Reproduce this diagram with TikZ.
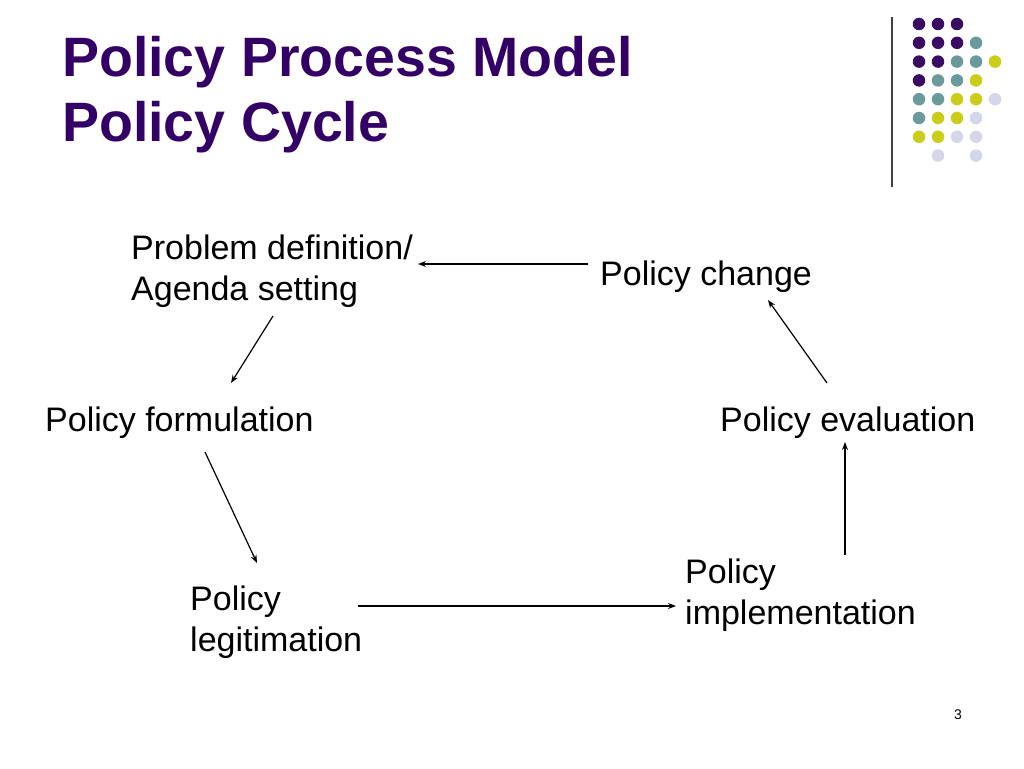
\documentclass[tikz,border=0pt]{standalone}
\usepackage{fontspec}
\setmainfont{Liberation Sans}
\usetikzlibrary{calc,arrows.meta}
\definecolor{ttlpurple}{HTML}{330066}
\definecolor{dotpurple}{HTML}{3B0A63}
\definecolor{dotteal}{HTML}{6B9A9C}
\definecolor{dotyellow}{HTML}{CCCC1A}
\definecolor{dotlav}{HTML}{D6D6EA}
\tikzset{
  body/.style={anchor=base west, inner sep=0pt, align=left, font=\fontsize{34}{41}\selectfont},
  ttl/.style={anchor=base west, inner sep=0pt, align=left, text=ttlpurple, font=\fontsize{55.5}{65}\selectfont\bfseries},
  arr/.style={-{Stealth[length=8pt,width=6pt]}, line width=1.2pt},
  dot/.style={circle, inner sep=0pt, minimum size=12.5pt}
}
\begin{document}
\begin{tikzpicture}[x=1pt,y=-1pt]
\useasboundingbox[fill=white] (0,0) rectangle (1024,768);
% title
\node[ttl] (t1) at (62,76) {Policy Process Model};
\node[ttl] (t2) at (62,141) {Policy Cycle};
% separator
\draw[line width=1.2pt, black!75] (892,17) -- (892,187);
% dots
\foreach \r/\row in {0/{P,P,P,N,N},1/{P,P,P,T,N},2/{P,P,T,T,Y},3/{P,T,T,Y,N},4/{T,T,Y,Y,L},5/{T,Y,Y,L,N},6/{Y,Y,L,L,N},7/{N,L,N,L,N}}{
  \foreach \c [count=\i from 0] in \row {
    \if\c P \node[dot, fill=dotpurple] (d\r\i) at (919+19*\i,24+18.8*\r) {};\fi
    \if\c T \node[dot, fill=dotteal] (d\r\i) at (919+19*\i,24+18.8*\r) {};\fi
    \if\c Y \node[dot, fill=dotyellow] (d\r\i) at (919+19*\i,24+18.8*\r) {};\fi
    \if\c L \node[dot, fill=dotlav] (d\r\i) at (919+19*\i,24+18.8*\r) {};\fi
  }
}
% nodes (base anchor = baseline of last line)
\node[body] (prob) at (131,300) {Problem definition/\\Agenda setting};
\node[body] (chg) at (600,285) {Policy change};
\node[body] (form) at (45,431) {Policy formulation};
\node[body] (eval) at (720,431) {Policy evaluation};
\node[body] (legit) at (190,651) {Policy\\legitimation};
\node[body] (impl) at (685,624) {Policy\\implementation};
\node[anchor=base west, inner sep=0pt, font=\fontsize{14}{16}\selectfont] (pg) at (954,719) {3};
% arrows
\draw[arr] ($(chg.base west)+(-12,-21)$) -- ($(prob.base west)+(287,-36)$);
\draw[arr] ($(prob.base west)+(142,16)$) -- ($(form.base west)+(186,-48)$);
\draw[arr] ($(form.base west)+(160,21)$) -- ($(legit.base west)+(67,-88)$);
\draw[arr] ($(legit.base west)+(168,-45)$) -- ($(impl.base west)+(-9,-18)$);
\draw[arr] ($(impl.base west)+(160,-69)$) -- ($(eval.base west)+(125,11)$);
\draw[arr] ($(eval.base west)+(107,-48)$) -- ($(chg.base west)+(168,15)$);
\end{tikzpicture}
\end{document}
